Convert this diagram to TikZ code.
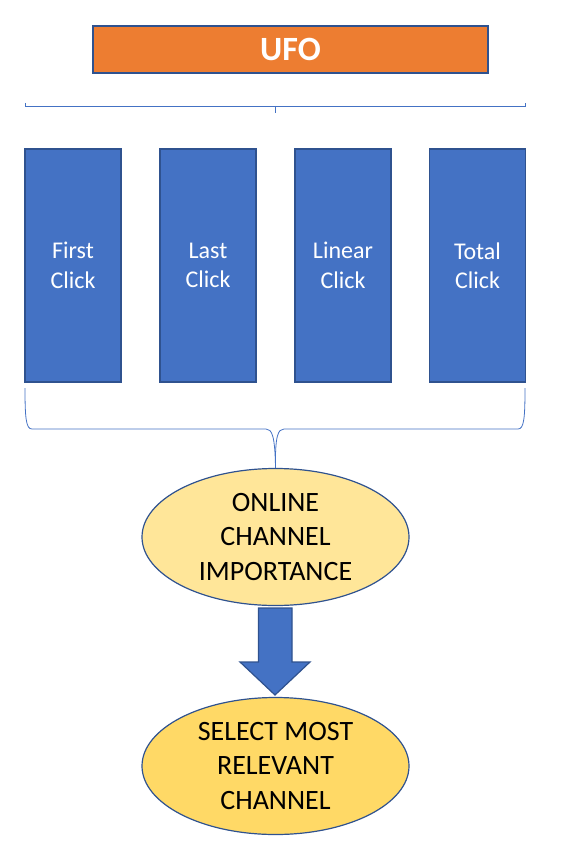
\documentclass[tikz,border=0pt]{standalone}
\usepackage{fontspec}
\setmainfont{Carlito}
\usetikzlibrary{shapes.geometric}
\definecolor{borderblue}{HTML}{2F528F}
\definecolor{boxblue}{HTML}{4472C4}
\definecolor{ufoorange}{HTML}{ED7D31}
\definecolor{lightyellow}{HTML}{FFE699}
\definecolor{goldyellow}{HTML}{FFD966}
\tikzset{
  ufobox/.style={draw=borderblue, line width=1.6pt, fill=ufoorange, text=white, minimum width=395pt, minimum height=47pt, inner sep=0pt, font=\bfseries\fontsize{34}{40}\selectfont},
  clickbox/.style={draw=borderblue, line width=1.4pt, fill=boxblue, text=white, minimum width=96pt, minimum height=233pt, inner sep=0pt, align=center, font=\fontsize{24}{29.5}\selectfont},
  oval/.style={ellipse, draw=borderblue, line width=1.2pt, minimum width=267pt, minimum height=137pt, inner sep=0pt, align=center, font=\fontsize{28}{34.5}\selectfont},
  bracel/.style={draw=boxblue, line width=0.8pt},
  bigarrow/.style={draw=borderblue, line width=1.2pt, fill=boxblue}
}
\begin{document}
\begin{tikzpicture}[x=1pt,y=-1pt]
\useasboundingbox (0,0) rectangle (585,856);
\node[ufobox] (ufo) at (290.5,49.5) {UFO};
\node[clickbox] (b1) at (73,265.5) {First\\Click};
\node[clickbox] (b2) at (208,265.5) {Last\\Click};
\node[clickbox] (b3) at (343,265.5) {Linear\\Click};
\node[clickbox] (b4) at (477.5,265.5) {Total\\Click};
\node[oval, fill=lightyellow] (e1) at (275.5,537) {ONLINE\\CHANNEL\\IMPORTANCE};
\node[oval, fill=goldyellow] (e2) at (275.5,766) {SELECT MOST\\RELEVANT\\CHANNEL};
% top brace
\coordinate (tl) at (25,106);
\coordinate (tr) at (525,106);
\coordinate (tc) at (275,106);
\draw[bracel] ([yshift=3pt]tl) -- (tl) -- (tr) -- ([yshift=3pt]tr);
\draw[bracel] (tc) -- ([yshift=-7pt]tc);
% bottom brace
\coordinate (bl) at (25,388);
\coordinate (br) at (525,388);
\draw[bracel] (bl) .. controls (25,418) and (26,429) .. (32,429) -- (266,429)
  .. controls (272,429) and (275,436) .. (e1.north);
\draw[bracel] (br) .. controls (525,418) and (524,429) .. (518,429) -- (284,429)
  .. controls (278,429) and (275,436) .. (e1.north);
% block arrow
\draw[bigarrow] (258.5,608) -- (292,608) -- (292,662) -- (310,662) -- (275,695) -- (240,662) -- (258.5,662) -- cycle;
\end{tikzpicture}
\end{document}
